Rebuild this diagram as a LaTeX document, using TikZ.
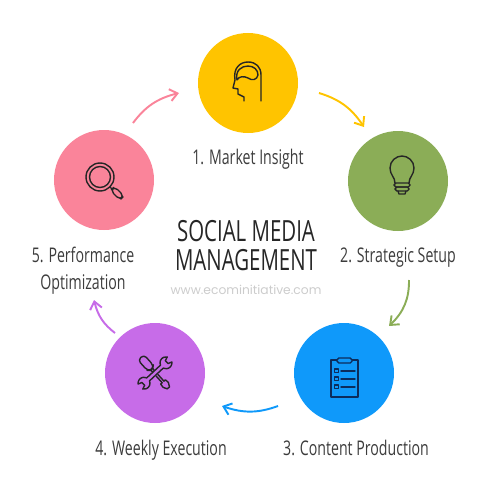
\documentclass[tikz,border=0pt]{standalone}
\usepackage{fontspec}
\setmainfont{Open Sans}[FakeStretch=0.70]
\newfontfamily\urlfont{Poppins}
\usetikzlibrary{
  arrows.meta,
  bending,
  positioning
}
\definecolor{sunny}{HTML}{FFC400}
\definecolor{leaf}{HTML}{8BAD57}
\definecolor{sky}{HTML}{0F99FA}
\definecolor{violet}{HTML}{C76CE8}
\definecolor{rose}{HTML}{FA849A}
\definecolor{ink}{HTML}{262626}
\definecolor{labelink}{HTML}{3C3C3C}
\definecolor{navyink}{HTML}{0C2C5C}
\tikzset{
  stage/.style={circle, minimum size=20mm, inner sep=0pt, fill=#1},
  arrow/.style={-{Straight Barb[length=1.5mm,width=2.4mm]}, line width=1.1pt},
  caption/.style={font=\fontsize{11.5}{15.3}\selectfont, text=labelink, align=center, inner sep=0pt},
  heading/.style={font=\fontsize{16.6}{16.5}\selectfont, text=ink, align=center, inner sep=0pt},
  icon/.style={draw=ink, line width=0.8pt, line join=round, line cap=round}
}
\begin{document}
\begin{tikzpicture}[x=0.2mm,y=-0.2mm]
  \useasboundingbox (0,0) rectangle (500,500);

  \node[stage=sunny] (insight) at (248,83) {};
  \node[stage=leaf] (setup) at (398,181) {};
  \node[stage=sky] (production) at (344,373) {};
  \node[stage=violet] (execution) at (155,373) {};
  \node[stage=rose] (optimization) at (104,180) {};

  \node[caption, below=3mm of insight] (insightlabel) {1. Market Insight};
  \node[caption, below=3.2mm of setup] (setuplabel) {2. Strategic Setup};
  \node[caption, below=3.2mm of production, xshift=2.4mm] (productionlabel) {3. Content Production};
  \node[caption, below=3.2mm of execution, xshift=1.2mm] (executionlabel) {4. Weekly Execution};
  \node[caption, below=3.2mm of optimization, xshift=-4.2mm] (optimizationlabel)
    {5. Performance\\Optimization};

  \node[heading] (title) at (246,246) {SOCIAL MEDIA\\MANAGEMENT};
  \node[font=\urlfont\fontsize{7}{7}\selectfont, text=black!20, below=1.4mm of title] (site)
    {www.ecominitiative.com};

  \coordinate (insightout) at ([shift={(71,10)}]insight.center);
  \coordinate (setupin) at ([shift={(-34,-54)}]setup.center);
  \coordinate (setupout) at ([shift={(11,99)}]setup.center);
  \coordinate (productionin) at ([shift={(45,-47)}]production.center);
  \coordinate (productionout) at ([shift={(-66,33)}]production.center);
  \coordinate (executionin) at ([shift={(67,33)}]execution.center);
  \coordinate (executionout) at ([shift={(-40,-40)}]execution.center);
  \coordinate (optimizationin) at ([shift={(-10,120)}]optimization.center);
  \coordinate (optimizationout) at ([shift={(29,-57)}]optimization.center);
  \coordinate (insightin) at ([shift={(-69,10)}]insight.center);

  \draw[arrow, sunny] (insightout) to[bend left=20] (setupin);
  \draw[arrow, leaf] (setupout) to[bend left=24] (productionin);
  \draw[arrow, sky] (productionout) to[bend left=20] (executionin);
  \draw[arrow, violet] (executionout) to[bend left=20] (optimizationin);
  \draw[arrow, rose] (optimizationout) to[bend left=20] (insightin);

  % brain
  \begin{scope}[shift={(insight)}]
    \draw[icon] (-4,18) -- (-4,14) -- (-10,11) -- (-10,6) -- (-15,5) -- (-13,-3)
      .. controls (-15,-15) and (-8,-21) .. (0,-21)
      .. controls (8,-21) and (13,-16) .. (13,-8) -- (13,18);
    \draw[icon] (-11,-3) .. controls (-13,-13) and (-6,-17) .. (0,-17)
      .. controls (6,-17) and (10,-13) .. (10,-8)
      .. controls (9,-3) and (4,-2) .. (0,-5)
      .. controls (-4,-7) and (-9,-7) .. (-11,-3);
  \end{scope}

  % bulb
  \begin{scope}[shift={(setup)}]
    \draw[icon] (-3,2) .. controls (-3,-4) and (-8,-6) .. (-8,-13)
      .. controls (-8,-20) and (-2,-25) .. (4,-25)
      .. controls (10,-25) and (16,-20) .. (16,-13)
      .. controls (16,-6) and (11,-4) .. (11,2);
    \draw[icon, rounded corners=1pt] (-4,2) rectangle (12,6);
    \draw[icon, rounded corners=1pt] (-3,6) rectangle (11,10);
    \draw[icon] (0,10) -- (1,13) -- (7,13) -- (8,10);
  \end{scope}

  % clipboard
  \begin{scope}[shift={(production)}, icon/.append style={draw=navyink}]
    \draw[icon] (-13,-13) rectangle (14,24);
    \draw[icon, fill=sky, rounded corners=1pt] (-7,-15) rectangle (8,-10);
    \foreach \row in {-2,6,14} {
      \draw[icon] (-9.5,\row-2) rectangle (-5.5,\row+1.5);
      \draw[icon] (-3,\row) -- (11,\row);
    }
  \end{scope}

  % tools
  \begin{scope}[shift={(execution)}, rotate=-48]
    \draw[icon, rounded corners=2pt] (-21,-4) -- (-7,-4) -- (-5,-1.5) -- (-5,1.5) -- (-7,4) -- (-21,4) -- cycle;
    \draw[icon] (-5,-1.2) -- (-2,-1.2) (3,-1.2) -- (12,-1.2) (-5,1.2) -- (-2,1.2) (3,1.2) -- (12,1.2);
    \draw[icon] (12,-1.2) -- (12,-3.2) -- (16,-3.6) -- (20,-1.5) -- (20,1.5) -- (16,3.6) -- (12,3.2) -- (12,1.2);
  \end{scope}
  \begin{scope}[shift={(execution)}, rotate=43]
    \draw[icon, fill=violet] (9.36,-2) arc[start angle=200,end angle=325,radius=6]
      -- (16,-2) -- (16,2) -- (19.9,3.44) arc[start angle=35,end angle=160,radius=6]
      -- (-9.36,2) arc[start angle=20,end angle=145,radius=6]
      -- (-16,2) -- (-16,-2) -- (-19.9,-3.44) arc[start angle=215,end angle=340,radius=6]
      -- cycle;
  \end{scope}

  % magnifier
  \begin{scope}[shift={(optimization)}]
    \draw[icon] (-4,-3) circle[radius=14];
    \draw[icon] (-4,-3) circle[radius=10.5];
    \draw[icon] (6,7) -- (8,9);
    \draw[icon, rounded corners=2.5pt] (6.5,10.5) -- (10.5,6.5) -- (20,16) -- (16,20) -- cycle;
  \end{scope}
\end{tikzpicture}
\end{document}
